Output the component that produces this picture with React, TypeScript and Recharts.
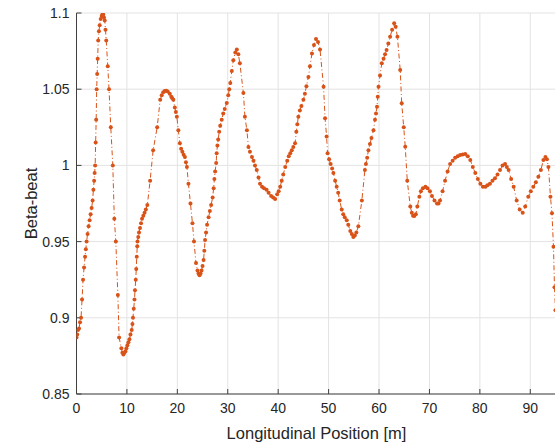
import { LineChart, Line, XAxis, YAxis, CartesianGrid, Label } from "recharts"

// longitudinal position [m]
const positions = [
  0.0, 0.15, 0.3, 0.5, 0.7, 0.9, 1.1, 1.3, 1.5, 1.7, 1.85, 2.0, 2.2, 2.4, 2.6, 2.8, 3.0, 3.2, 3.35, 3.5,
  3.6, 3.7, 3.8, 3.9, 4.0, 4.1, 4.2, 4.3, 4.45, 4.6, 4.8, 5.0, 5.15, 5.3, 5.45, 5.6, 5.75, 5.9, 6.2, 6.45,
  6.8, 7.2, 7.5, 7.8, 8.2, 8.45, 8.9, 9.1, 9.3, 9.5, 9.7, 9.9, 10.1, 10.3, 10.5, 10.7, 10.95, 11.1, 11.2, 11.35,
  11.5, 11.6, 11.75, 11.85, 11.95, 12.05, 12.1, 12.25, 12.4, 12.6, 12.8, 13.0, 13.25, 13.5, 13.75, 14.05, 14.6, 15.2, 16.0, 16.6,
  16.9, 17.2, 17.5, 17.8, 18.1, 18.5, 18.8, 19.0, 19.2, 19.5, 19.7, 19.9, 20.2, 20.5, 20.75, 21.0, 21.25, 21.5, 21.7, 21.9,
  22.2, 22.6, 23.0, 23.3, 23.7, 24.0, 24.2, 24.4, 24.6, 24.8, 25.0, 25.2, 25.35, 25.5, 25.7, 25.9, 26.2, 26.45, 26.7, 27.0,
  27.2, 27.35, 27.5, 27.7, 27.8, 27.95, 28.1, 28.3, 28.5, 28.8, 29.1, 29.4, 29.8, 30.1, 30.3, 30.5, 30.8, 31.1, 31.5, 31.8,
  32.1, 32.4, 33.1, 33.4, 33.8, 34.1, 34.4, 34.8, 35.1, 35.4, 35.75, 36.1, 36.4, 36.8, 37.2, 37.7, 38.1, 38.6, 39.0, 39.4,
  39.8, 40.1, 40.4, 40.7, 41.0, 41.4, 41.8, 42.1, 42.4, 42.7, 43.0, 43.35, 43.6, 43.8, 44.0, 44.3, 44.6, 45.0, 45.3, 45.6,
  46.0, 46.3, 46.7, 47.1, 47.5, 47.9, 48.3, 49.0, 49.3, 49.6, 49.8, 50.1, 50.4, 50.7, 50.95, 51.3, 51.6, 51.9, 52.2, 52.6,
  52.9, 53.2, 53.6, 53.9, 54.3, 54.6, 54.9, 55.2, 55.5, 55.9, 56.6, 57.2, 57.4, 57.65, 57.9, 58.2, 58.5, 58.9, 59.2, 59.4,
  59.6, 59.75, 59.9, 60.2, 60.55, 60.9, 61.2, 61.5, 61.85, 62.2, 62.6, 63.0, 63.3, 63.65, 64.2, 64.5, 64.9, 65.2, 65.6, 66.2,
  66.5, 66.75, 67.0, 67.3, 67.6, 68.0, 68.3, 68.7, 69.2, 69.6, 70.1, 70.5, 71.0, 71.5, 71.8, 72.1, 72.6, 73.1, 73.6, 74.1,
  74.6, 75.1, 75.6, 76.1, 76.6, 77.1, 77.6, 78.1, 78.6, 79.1, 79.6, 80.1, 80.6, 81.1, 81.5, 82.0, 82.5, 83.0, 83.5, 84.0,
  84.5, 85.0, 85.35, 85.7, 86.2, 86.7, 87.3, 87.9, 88.5, 89.0, 89.6, 90.1, 90.6, 91.1, 91.6, 92.1, 92.6, 93.0, 93.3, 93.6,
  94.0, 94.3, 94.6, 94.8, 95.0,
]

const betaBeat = [
  0.887, 0.889, 0.892, 0.893, 0.897, 0.9, 0.912, 0.925, 0.933, 0.94, 0.945, 0.95, 0.955, 0.96, 0.964, 0.968, 0.972, 0.977, 0.984, 0.99,
  0.995, 1.0, 1.015, 1.03, 1.05, 1.06, 1.07, 1.082, 1.088, 1.092, 1.096, 1.098, 1.099, 1.099, 1.097, 1.095, 1.089, 1.082, 1.065, 1.05,
  1.025, 1.0, 0.965, 0.95, 0.915, 0.887, 0.88, 0.877, 0.876, 0.877, 0.878, 0.88, 0.882, 0.884, 0.886, 0.889, 0.892, 0.896, 0.9, 0.906,
  0.912, 0.918, 0.925, 0.932, 0.94, 0.947, 0.95, 0.953, 0.956, 0.959, 0.962, 0.965, 0.967, 0.969, 0.971, 0.974, 0.99, 1.01, 1.025, 1.043,
  1.046, 1.048, 1.0488, 1.049, 1.0485, 1.047, 1.045, 1.044, 1.043, 1.038, 1.035, 1.032, 1.023, 1.0146, 1.011, 1.009, 1.007, 1.0055, 1.002, 0.999,
  0.988, 0.975, 0.962, 0.95, 0.936, 0.931, 0.929, 0.928, 0.929, 0.931, 0.934, 0.938, 0.944, 0.951, 0.956, 0.961, 0.966, 0.97, 0.974, 0.979,
  0.985, 0.991, 0.996, 1.0015, 1.008, 1.013, 1.017, 1.022, 1.026, 1.03, 1.034, 1.037, 1.041, 1.046, 1.05, 1.054, 1.062, 1.069, 1.074, 1.076,
  1.073, 1.067, 1.0475, 1.032, 1.023, 1.012, 1.009, 1.0055, 1.003, 1.0, 0.997, 0.992, 0.988, 0.986, 0.985, 0.984, 0.982, 0.98, 0.979, 0.978,
  0.981, 0.983, 0.986, 0.99, 0.994, 0.999, 1.003, 1.006, 1.008, 1.01, 1.012, 1.0145, 1.022, 1.027, 1.032, 1.036, 1.039, 1.043, 1.047, 1.052,
  1.058, 1.065, 1.0735, 1.079, 1.083, 1.081, 1.076, 1.0516, 1.031, 1.019, 1.008, 1.004, 1.001, 0.998, 0.995, 0.99, 0.986, 0.982, 0.977, 0.971,
  0.968, 0.966, 0.964, 0.961, 0.957, 0.955, 0.953, 0.954, 0.956, 0.96, 0.977, 0.997, 1.001, 1.005, 1.01, 1.014, 1.018, 1.023, 1.03, 1.034,
  1.0385, 1.045, 1.0516, 1.059, 1.067, 1.07, 1.073, 1.0757, 1.08, 1.0844, 1.089, 1.0932, 1.091, 1.0844, 1.0626, 1.0407, 1.025, 1.0123, 0.99, 0.973,
  0.969, 0.967, 0.9668, 0.968, 0.973, 0.9795, 0.983, 0.985, 0.986, 0.985, 0.983, 0.98, 0.977, 0.975, 0.975, 0.977, 0.983, 0.99, 0.996, 1.001,
  1.003, 1.005, 1.006, 1.0068, 1.0072, 1.0075, 1.006, 1.0035, 0.999, 0.995, 0.991, 0.988, 0.986, 0.986, 0.987, 0.988, 0.99, 0.9915, 0.994, 0.997,
  1.0, 1.001, 0.999, 0.997, 0.991, 0.986, 0.977, 0.971, 0.969, 0.973, 0.9795, 0.983, 0.986, 0.989, 0.9926, 0.997, 1.0035, 1.0055, 1.004, 0.999,
  0.9795, 0.9686, 0.9467, 0.92, 0.905,
]

const xTicks = [0, 10, 20, 30, 40, 50, 60, 70, 80, 90]
const yTicks = [0.85, 0.9, 0.95, 1, 1.05, 1.1]

const data = positions.map((x, i) => ({ x, y: betaBeat[i] }))

const axisColor = "#404040"
const textColor = "#262626"
const lineColor = "#D95319"
const font = "'Liberation Sans', Arial, sans-serif"

export default function App() {
  return (
    <div style={{ position: "fixed", left: 0, top: 0, width: 555, height: 444, overflow: "hidden", background: "#fff" }}>
      <LineChart width={570} height={444} data={data} margin={{ top: 13, right: 13.5, left: 0, bottom: 0 }}>
        <CartesianGrid stroke="#e3e3e3" strokeWidth={1} />
        <XAxis
          dataKey="x"
          type="number"
          domain={[0, 95.2]}
          ticks={xTicks}
          allowDataOverflow
          height={50}
          stroke={axisColor}
          tickSize={-5}
          tickMargin={14}
          tick={{ fill: textColor, fontSize: 14, fontFamily: font }}
        >
          <Label
            content={({ viewBox }: any) => (
              <text
                x={viewBox.x + viewBox.width / 2}
                y={viewBox.y + 45}
                textAnchor="middle"
                fill={textColor}
                fontSize={16.5}
                fontFamily={font}
              >
                Longitudinal Position [m]
              </text>
            )}
          />
        </XAxis>
        <XAxis xAxisId="top" orientation="top" type="number" domain={[0, 95.2]} ticks={xTicks} height={0} stroke={axisColor} tickSize={-5} tick={false} />
        <YAxis
          type="number"
          domain={[0.85, 1.1]}
          ticks={yTicks}
          allowDataOverflow
          width={76.5}
          stroke={axisColor}
          tickSize={-5}
          tickMargin={12}
          tickFormatter={(v: number) => String(v)}
          tick={{ fill: textColor, fontSize: 14, fontFamily: font }}
        >
          <Label
            content={({ viewBox }: any) => {
              const cx = viewBox.x + 37
              const cy = viewBox.y + viewBox.height / 2
              return (
                <text
                  x={cx}
                  y={cy}
                  textAnchor="middle"
                  transform={`rotate(-90 ${cx} ${cy})`}
                  fill={textColor}
                  fontSize={16.5}
                  fontFamily={font}
                >
                  Beta-beat
                </text>
              )
            }}
          />
        </YAxis>
        <Line
          type="linear"
          dataKey="y"
          stroke={lineColor}
          strokeWidth={1}
          strokeDasharray="5 2.5 1 2.5"
          dot={{ r: 2, fill: lineColor, stroke: "none" }}
          activeDot={false}
          isAnimationActive={false}
        />
      </LineChart>
    </div>
  )
}
